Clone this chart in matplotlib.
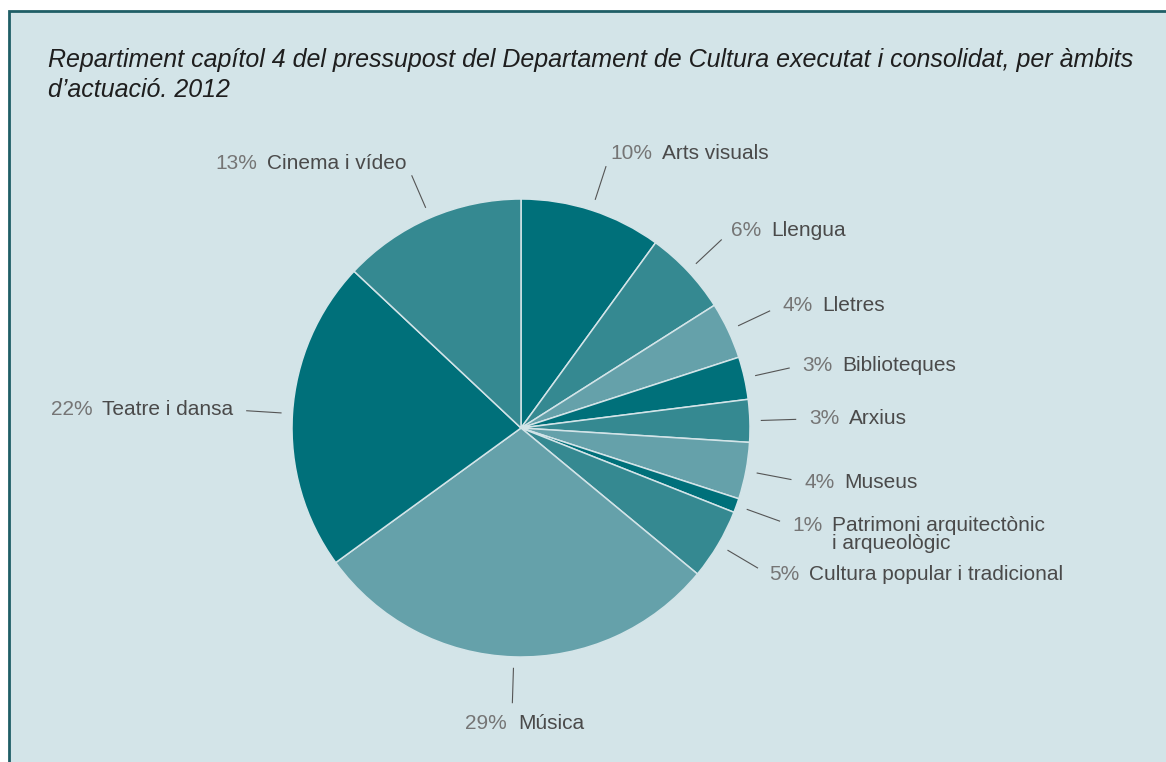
import numpy as np
import matplotlib.pyplot as plt
from matplotlib.patches import Rectangle

plt.rcParams['font.family'] = ['Liberation Sans', 'DejaVu Sans']

# data: clockwise from 12 o'clock
labels = ["Arts visuals", "Llengua", "Lletres", "Biblioteques", "Arxius", "Museus",
          "Patrimoni arquitectònic\ni arqueològic", "Cultura popular i tradicional",
          "Música", "Teatre i dansa", "Cinema i vídeo"]
values = [10, 6, 4, 3, 3, 4, 1, 5, 29, 22, 13]
pct_labels = ["10%", "6%", "4%", "3%", "3%", "4%", "1%", "5%", "29%", "22%", "13%"]

title = ("Repartiment capítol 4 del pressupost del Departament de Cultura executat i consolidat, per àmbits\n"
         "d\u2019actuació. 2012")

bg = "#d3e4e8"
dark, mid, light = "#00707a", "#358991", "#65a1aa"
colors = [dark, mid, light] * 3 + [dark, mid]

W, H = 1166, 762
fig = plt.figure(figsize=(W / 100, H / 100), dpi=100)
fig.patch.set_facecolor("white")
ax = fig.add_axes([0, 0, 1, 1])

# panel with frame
ax.add_patch(Rectangle((9, -20), W + 20, H - 11 + 20, facecolor=bg,
                       edgecolor="#1f5e66", linewidth=2, zorder=0))

cx, cy, r = 521, H - 428, 229
wedges, _ = ax.pie(values, colors=colors, startangle=90, counterclock=False,
                   center=(cx, cy), radius=r, frame=True,
                   wedgeprops=dict(edgecolor=bg, linewidth=1.1))
ax.set_xlim(0, W)
ax.set_ylim(0, H)
ax.set_aspect("equal")
ax.axis("off")

ax.text(48, H - 48, title, fontsize=18, style="italic", color="#1e1e1e",
        ha="left", va="top", linespacing=1.3)

pct_col, name_col = "#757575", "#4a4a4a"
fs = 15
for w, pct, name in zip(wedges, pct_labels, labels):
    ang = np.deg2rad((w.theta1 + w.theta2) / 2)
    ca, sa = np.cos(ang), np.sin(ang)
    ax.plot([cx + 1.05 * r * ca, cx + 1.2 * r * ca],
            [cy + 1.05 * r * sa, cy + 1.2 * r * sa], color="#555555", lw=0.8)
    tx, ty = cx + 1.26 * r * ca, cy + 1.26 * r * sa
    if sa < -0.95:
        # bottom: split around the anchor
        ty = cy + 1.25 * r * sa
        p = ax.text(tx - 5, ty, pct, fontsize=fs, color=pct_col, ha="right", va="top")
        ax.annotate(name, xy=(1, 1), xycoords=p, xytext=(8, 0), textcoords="offset points",
                    fontsize=fs, color=name_col, ha="left", va="top")
    elif ca >= 0:
        p = ax.text(tx, ty, pct, fontsize=fs, color=pct_col, ha="left", va="center")
        ax.annotate(name, xy=(1, 1), xycoords=p, xytext=(7, 0), textcoords="offset points",
                    fontsize=fs, color=name_col, ha="left", va="top", linespacing=0.9)
    else:
        n = ax.text(tx, ty, name, fontsize=fs, color=name_col, ha="right", va="center")
        ax.annotate(pct, xy=(0, 1), xycoords=n, xytext=(-7, 0), textcoords="offset points",
                    fontsize=fs, color=pct_col, ha="right", va="top")

fig.savefig("out.png", dpi=100, facecolor=fig.get_facecolor())
